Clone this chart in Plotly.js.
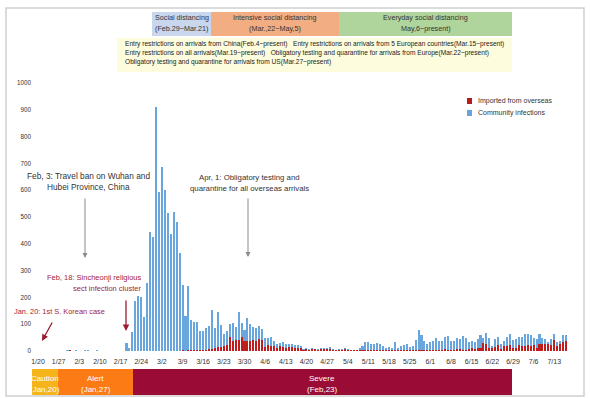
<!DOCTYPE html>
<html><head><meta charset="utf-8">
<script src="https://cdn.plot.ly/plotly-3.0.1.min.js"></script>
<style>html,body{margin:0;padding:0;background:#fff}#chart{width:590px;height:398px}</style>
</head><body><div id="chart"></div>
<script>
// ---- data (daily new cases, Jan 20 - Jul 17, 2020) ----
const startDate = '2020-01-20';
const imported = [
 1,0,0,0,1,0,1,1,0,0,
 1,2,1,1,0,1,1,1,0,0,
 0,1,0,0,0,0,0,0,0,0,
 0,0,0,0,0,0,0,0,0,0,
 0,0,0,0,0,0,0,0,1,2,
 1,2,3,2,3,4,5,5,7,9,
 10,14,15,19,22,51,39,40,41,54,
 36,38,36,40,38,45,40,16,22,17,
 19,11,17,14,12,14,16,12,12,10,
 5,6,4,7,6,4,6,6,6,9,
 5,4,5,4,9,4,3,2,3,4,
 2,3,5,3,4,3,3,2,2,4,
 3,3,3,4,3,2,3,2,2,3,
 4,2,3,2,3,4,3,5,6,3,
 3,4,6,8,5,4,8,12,8,10,
 12,31,25,12,11,16,21,9,18,19,
 22,13,11,24,17,20,24,18,23,13,
 26,27,25,26,22,41,20,25,34,37
];
const community = [
 0,0,0,0,0,0,0,0,0,0,
 1,3,0,2,0,0,2,3,1,0,
 3,0,0,0,0,0,0,1,1,1,
 31,12,72,187,205,203,127,255,445,424,
 909,595,686,600,516,438,518,483,366,246,
 130,240,111,108,104,72,69,79,86,143,
 77,133,83,45,54,49,65,51,105,51,
 42,87,65,49,48,49,41,31,25,36,
 20,16,13,18,13,13,11,10,10,8,
 3,7,5,4,2,2,4,4,4,5,
 4,0,4,2,4,4,0,0,1,8,
 16,31,30,24,22,26,24,17,11,11,
 10,29,9,16,20,23,13,17,38,76,
 54,37,24,33,35,45,36,34,45,54,
 35,34,44,37,51,45,26,25,26,33,
 47,18,42,36,6,30,30,19,21,32,
 40,29,32,27,37,43,39,43,25,31,
 36,23,20,9,22,21,13,14,27,23
];
const tickDates = ['2020-01-20','2020-01-27','2020-02-03','2020-02-10','2020-02-17','2020-02-24',
 '2020-03-02','2020-03-09','2020-03-16','2020-03-23','2020-03-30','2020-04-06','2020-04-13',
 '2020-04-20','2020-04-27','2020-05-04','2020-05-11','2020-05-18','2020-05-25','2020-06-01',
 '2020-06-08','2020-06-15','2020-06-22','2020-06-29','2020-07-06','2020-07-13'];
const tickLabels = ['1/20','1/27','2/3','2/10','2/17','2/24','3/2','3/9','3/16','3/23','3/30',
 '4/6','4/13','4/20','4/27','5/4','5/11','5/18','5/25','6/1','6/8','6/15','6/22','6/29','7/6','7/13'];
const seriesNames = ['Imported from overseas','Community infections'];

// category axis: consecutive days starting at startDate
const dates = [];
{
  const t0 = Date.parse(startDate + 'T00:00:00Z');
  for (let i = 0; i < community.length; i++) {
    dates.push(new Date(t0 + i * 86400000).toISOString().slice(0, 10));
  }
}

// ---- layout helpers (pixel -> paper) ----
const L = 32, R = 575, T = 83, B = 351;
const px = x => (x - L) / (R - L);
const py = y => (B - y) / (B - T);
const FONT = 'Liberation Sans, Arial, sans-serif';
const RED = '#a3233a';

function rect(x0, y0, x1, y1, fill, line) {
  return {type: 'rect', xref: 'paper', yref: 'paper', x0: px(x0), x1: px(x1), y0: py(y1), y1: py(y0),
    fillcolor: fill || 'rgba(0,0,0,0)', line: line || {width: 0}, layer: 'below'};
}
function txt(x, y, text, opt) {
  opt = opt || {};
  return Object.assign({xref: 'paper', yref: 'paper', x: px(x), y: py(y), text: text, showarrow: false,
    xanchor: 'center', yanchor: 'middle', font: {family: FONT, size: 7.2, color: '#333'}}, opt);
}
function arrow(x, y, ax, ay, color, w) {
  return {xref: 'paper', yref: 'paper', x: px(x), y: py(y), ax: ax, ay: ay, text: '', showarrow: true,
    arrowhead: 2, arrowsize: 1, arrowwidth: w || 1, arrowcolor: color};
}

const shapes = [
  rect(6, 8, 584, 396, null, {color: '#cfcfcf', width: 1.5}),
  rect(152, 12, 211, 36, '#c8d6ee'),
  rect(211, 12, 339, 36, '#f3ad82'),
  rect(339, 12, 512, 36, '#b0d59c'),
  rect(117, 38, 512, 72, '#fdfcdc'),
  rect(32, 369, 58, 395, '#f5b41a'),
  rect(58, 369, 133, 395, '#fc7b14'),
  rect(133, 369, 512, 395, '#9a0b36'),
  rect(467, 98, 472, 104, '#b71c1c'),
  rect(467, 110, 472, 116, '#6aa3da')
];

const W = {family: FONT, size: 8, color: '#ffffff'};
const Y = {family: FONT, size: 6.6, color: '#222'};
const annotations = [
  txt(181.5, 17, 'Social distancing'), txt(181.5, 29, '(Feb.29~Mar.21)'),
  txt(275, 17, 'Intensive social distancing'), txt(275, 29, '(Mar.,22~May,5)'),
  txt(425.5, 17, 'Everyday social distancing'), txt(425.5, 29, 'May,6~present)'),
  txt(123, 44, 'Entry restrictions on arrivals from China(Feb.4~present)&nbsp;&nbsp;&nbsp;Entry restrictions on arrivals from 5 European countries(Mar.15~present)', {xanchor: 'left', font: Y}),
  txt(123, 53, 'Entry restrictions on all arrivals(Mar.19~present)&nbsp;&nbsp;&nbsp;Obligatory testing and quarantine for arrivals from Europe(Mar.22~present)', {xanchor: 'left', font: Y}),
  txt(123, 62, 'Obligatory testing and quarantine for arrivals from US(Mar.27~present)', {xanchor: 'left', font: Y}),
  txt(476, 101, seriesNames[0], {xanchor: 'left', font: {family: FONT, size: 7, color: '#333'}}),
  txt(476, 113, seriesNames[1], {xanchor: 'left', font: {family: FONT, size: 7, color: '#333'}}),
  txt(88, 176, 'Feb, 3: Travel ban on Wuhan and', {font: {family: FONT, size: 8.3, color: '#333'}}),
  txt(88, 187, 'Hubei Province, China', {font: {family: FONT, size: 8.3, color: '#333'}}),
  arrow(85, 258, 0, -61, '#8a8a8a', 1),
  txt(249, 177, 'Apr, 1: Obligatory testing and', {font: {family: FONT, size: 7.8, color: '#333'}}),
  txt(249, 188, 'quarantine for all overseas arrivals', {font: {family: FONT, size: 7.8, color: '#333'}}),
  arrow(248, 257, 0, -60, '#8a8a8a', 1),
  txt(143, 277, 'Feb, 18: Sincheonji religious', {xanchor: 'right', font: {family: FONT, size: 7.5, color: RED}}),
  txt(143, 288, 'sect infection cluster', {xanchor: 'right', font: {family: FONT, size: 7.5, color: RED}}),
  arrow(126, 331, 0, -32, '#9b1c2e', 1.3),
  txt(12, 311, 'Jan. 20: 1st S. Korean case', {xanchor: 'left', font: {family: FONT, size: 7.4, color: RED}}),
  arrow(42, 341, 11, -20, '#9b1c2e', 1.3),
  txt(45, 378, 'Caution', {font: W}), txt(45, 389, '(Jan,20)', {font: W}),
  txt(95.5, 378, 'Alert', {font: W}), txt(95.5, 389, '(Jan,27)', {font: W}),
  txt(322, 378, 'Severe', {font: W}), txt(322, 389, '(Feb,23)', {font: W})
];

const traces = [
  {type: 'bar', x: dates, y: imported, name: seriesNames[0], marker: {color: '#c01d1f', line: {width: 0}}, hoverinfo: 'x+y+name'},
  {type: 'bar', x: dates, y: community, name: seriesNames[1], marker: {color: '#6aa6de', line: {width: 0}}, hoverinfo: 'x+y+name'}
];

const layout = {
  width: 590, height: 398,
  margin: {l: L, r: 590 - R, t: T, b: 398 - B, pad: 0},
  paper_bgcolor: '#ffffff', plot_bgcolor: '#ffffff',
  barmode: 'stack', bargap: 0.3, showlegend: false,
  font: {family: FONT, color: '#333'},
  xaxis: {type: 'date', range: ['2020-01-17 23:17', '2020-07-20 00:43'],
    tickmode: 'array', tickvals: tickDates, ticktext: tickLabels,
    tickfont: {family: FONT, size: 7, color: '#333'}, ticks: '', ticklabelstandoff: 5,
    showgrid: false, zeroline: false, showline: false, fixedrange: true},
  yaxis: {range: [0, 1000], tickmode: 'linear', tick0: 0, dtick: 100,
    tickfont: {family: FONT, size: 6.3, color: '#333'}, ticks: '',
    showgrid: false, zeroline: false, showline: false, fixedrange: true},
  shapes: shapes,
  annotations: annotations
};

Plotly.newPlot('chart', traces, layout, {displayModeBar: false, staticPlot: true});
</script>
</body></html>
